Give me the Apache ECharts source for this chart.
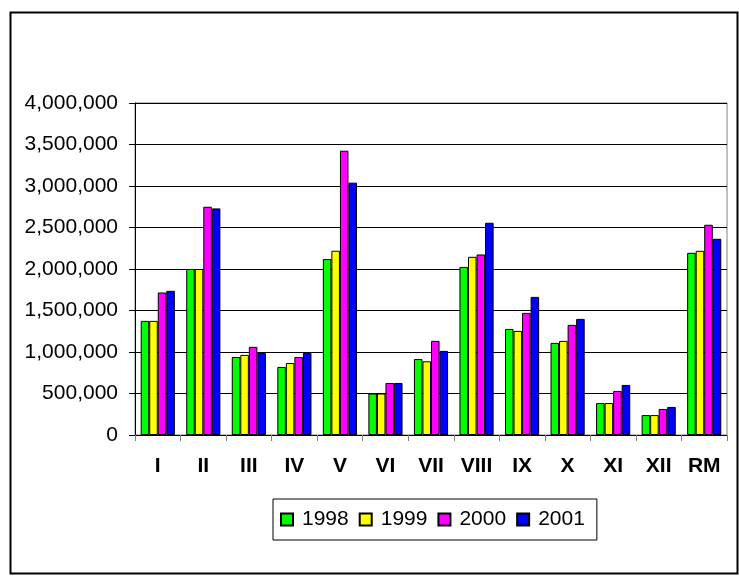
<!DOCTYPE html>
<html>
<head>
<meta charset="utf-8">
<script src="https://cdn.jsdelivr.net/npm/echarts@6/dist/echarts.min.js"></script>
<style>
  html, body { margin: 0; padding: 0; background: #fff; }
  #chart { width: 739px; height: 576px; }
</style>
</head>
<body>
<div id="chart"></div>
<script>
var categories = ["I", "II", "III", "IV", "V", "VI", "VII", "VIII", "IX", "X", "XI", "XII", "RM"];
var years = ["1998", "1999", "2000", "2001"];
var values1998 = [1375000, 2000000, 940000, 820000, 2120000, 500000, 915000, 2025000, 1278000, 1110000, 385000, 240000, 2195000];
var values1999 = [1375000, 2000000, 965000, 868000, 2220000, 500000, 888000, 2147000, 1254000, 1134000, 385000, 240000, 2219000];
var values2000 = [1717000, 2750000, 1062000, 940000, 3425000, 627000, 1134000, 2175000, 1471000, 1327000, 531000, 314000, 2533000];
var values2001 = [1737000, 2730000, 990000, 990000, 3040000, 627000, 1013000, 2557000, 1664000, 1399000, 603000, 338000, 2364000];
var barColors = ["#00ff00", "#ffff00", "#ff00ff", "#0000ff"];

var chart = echarts.init(document.getElementById("chart"));
var seriesValues = [values1998, values1999, values2000, values2001];

var option = {
  animation: false,
  backgroundColor: "#fff",
  textStyle: { fontFamily: "Liberation Sans, Arial, sans-serif" },
  graphic: [
    {
      type: "rect",
      left: 8,
      top: 10,
      shape: { width: 727, height: 561 },
      style: { fill: "none", stroke: "#000", lineWidth: 2 },
      z: -1
    }
  ],
  grid: {
    left: 135,
    right: 12,
    top: 103,
    bottom: 141,
    show: true,
    borderColor: "#808080",
    borderWidth: 1
  },
  legend: {
    data: years,
    left: 273,
    top: 499,
    padding: [10, 12, 10, 7],
    borderColor: "#000",
    borderWidth: 1,
    itemWidth: 12,
    itemHeight: 12,
    itemGap: 10,
    icon: "rect",
    textStyle: { fontSize: 21, color: "#000", padding: [0, 0, 0, 4] }
  },
  xAxis: {
    type: "category",
    data: categories,
    axisLine: { lineStyle: { color: "#000", width: 1 } },
    axisTick: { show: true, length: 6, lineStyle: { color: "#808080" } },
    axisLabel: { fontSize: 21, fontWeight: "bold", color: "#000", margin: 21 }
  },
  yAxis: {
    type: "value",
    min: 0,
    max: 4000000,
    interval: 500000,
    axisLine: { show: true, lineStyle: { color: "#000", width: 1 } },
    axisTick: { show: true, length: 6, lineStyle: { color: "#000" } },
    axisLabel: {
      fontSize: 21,
      color: "#000",
      margin: 17,
      formatter: function (v) { return v.toLocaleString("en-US"); }
    },
    splitLine: { lineStyle: { color: "#000", width: 1 } }
  },
  series: years.map(function (y, i) {
    return {
      name: y,
      type: "bar",
      data: seriesValues[i],
      barGap: "0%",
      barCategoryGap: "25%",
      itemStyle: { color: barColors[i], borderColor: "#000", borderWidth: 1 }
    };
  })
};

chart.setOption(option);
</script>
</body>
</html>
